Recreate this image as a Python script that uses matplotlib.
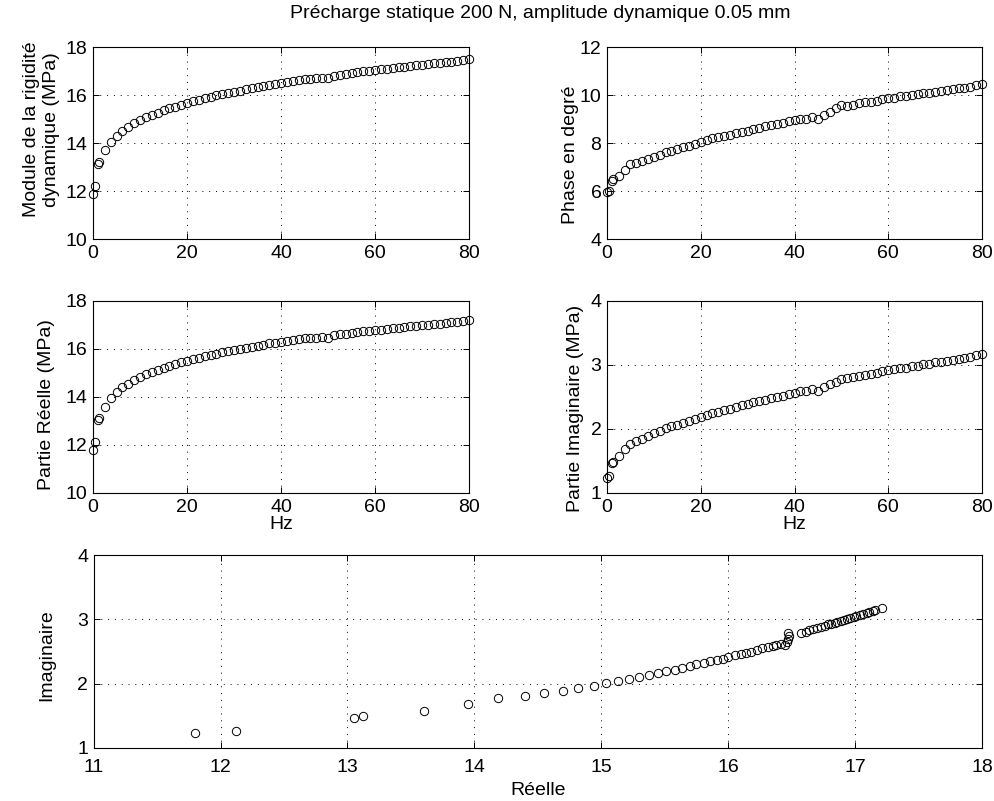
import matplotlib
matplotlib.use("Agg")
import matplotlib.pyplot as plt

# Frequencies (Hz)
freq = [0.1, 0.5, 1.0, 1.25, 2.5, 3.75, 5.0, 6.25, 7.5, 8.75,
        10.0, 11.25, 12.5, 13.75, 15.0, 16.25, 17.5, 18.75, 20.0, 21.25,
        22.5, 23.75, 25.0, 26.25, 27.5, 28.75, 30.0, 31.25, 32.5, 33.75,
        35.0, 36.25, 37.5, 38.75, 40.0, 41.25, 42.5, 43.75, 45.0, 46.25,
        47.5, 48.75, 50.0, 51.25, 52.5, 53.75, 55.0, 56.25, 57.5, 58.75,
        60.0, 61.25, 62.5, 63.75, 65.0, 66.25, 67.5, 68.75, 70.0, 71.25,
        72.5, 73.75, 75.0, 76.25, 77.5, 78.75, 80.0]

# Module de la rigidite dynamique (MPa)
module = [11.86, 12.19, 13.13, 13.21, 13.69, 14.05, 14.30, 14.51, 14.67, 14.82,
          14.95, 15.07, 15.17, 15.27, 15.36, 15.44, 15.52, 15.60, 15.66, 15.74,
          15.80, 15.86, 15.92, 15.98, 16.03, 16.09, 16.14, 16.18, 16.24, 16.29,
          16.33, 16.37, 16.43, 16.47, 16.51, 16.55, 16.59, 16.63, 16.66, 16.67,
          16.69, 16.71, 16.71, 16.81, 16.85, 16.88, 16.91, 16.95, 16.98, 17.01,
          17.04, 17.07, 17.10, 17.12, 17.15, 17.17, 17.21, 17.23, 17.26, 17.28,
          17.32, 17.34, 17.37, 17.39, 17.43, 17.45, 17.50]

# Phase (degres)
phase = [5.95, 5.98, 6.43, 6.48, 6.63, 6.87, 7.11, 7.16, 7.25, 7.33,
         7.42, 7.51, 7.61, 7.68, 7.74, 7.82, 7.89, 7.96, 8.04, 8.11,
         8.19, 8.23, 8.31, 8.35, 8.43, 8.47, 8.52, 8.60, 8.64, 8.69,
         8.73, 8.78, 8.83, 8.91, 8.95, 9.00, 9.02, 9.07, 8.98, 9.15,
         9.31, 9.44, 9.58, 9.55, 9.60, 9.65, 9.70, 9.72, 9.77, 9.82,
         9.87, 9.89, 9.94, 9.96, 10.01, 10.03, 10.08, 10.10, 10.14, 10.17,
         10.21, 10.23, 10.28, 10.30, 10.35, 10.40, 10.44]

# Partie reelle (MPa)
reelle = [11.80, 12.12, 13.05, 13.12, 13.60, 13.95, 14.19, 14.40, 14.55, 14.70,
          14.82, 14.94, 15.04, 15.13, 15.22, 15.30, 15.375, 15.45, 15.51, 15.58,
          15.64, 15.70, 15.75, 15.81, 15.86, 15.91, 15.96, 16.00, 16.05, 16.10,
          16.14, 16.18, 16.23, 16.27, 16.31, 16.35, 16.38, 16.42, 16.45, 16.46,
          16.47, 16.48, 16.47, 16.575, 16.61, 16.64, 16.67, 16.70, 16.73, 16.76,
          16.79, 16.81, 16.84, 16.86, 16.89, 16.91, 16.94, 16.96, 16.99, 17.01,
          17.04, 17.06, 17.09, 17.11, 17.14, 17.16, 17.21]

# Partie imaginaire (MPa)
imag = [1.23, 1.27, 1.47, 1.49, 1.58, 1.68, 1.77, 1.81, 1.85, 1.89,
        1.93, 1.97, 2.01, 2.04, 2.07, 2.10, 2.13, 2.16, 2.19, 2.22,
        2.25, 2.27, 2.30, 2.32, 2.35, 2.37, 2.39, 2.42, 2.44, 2.46,
        2.48, 2.50, 2.52, 2.55, 2.57, 2.59, 2.60, 2.62, 2.60, 2.65,
        2.70, 2.74, 2.78, 2.79, 2.81, 2.83, 2.85, 2.86, 2.88, 2.90,
        2.92, 2.93, 2.95, 2.96, 2.98, 2.99, 3.01, 3.02, 3.04, 3.05,
        3.07, 3.08, 3.10, 3.11, 3.13, 3.15, 3.17]

plt.rcParams['font.family'] = ['Liberation Sans', 'DejaVu Sans']
plt.rcParams['font.size'] = 14

W, H = 994, 801
fig = plt.figure(figsize=(W / 100, H / 100), dpi=100)


def box(l, t, r, b):
    return [l / W, 1 - b / H, (r - l) / W, (b - t) / H]


def style(ax):
    ax.grid(True, color='black', linestyle=(0, (1, 6)), linewidth=0.7)
    ax.tick_params(direction='in', top=True, right=True, length=4, width=0.7, pad=4)
    for s in ax.spines.values():
        s.set_linewidth(0.8)


def scatter(ax, x, y):
    ax.plot(x, y, 'o', markerfacecolor='none', markeredgecolor='black',
            markersize=6, markeredgewidth=0.7, linestyle='none', clip_on=False)


ax1 = fig.add_axes(box(93, 47, 469, 239))
scatter(ax1, freq, module)
ax1.set_xlim(0, 80)
ax1.set_ylim(10, 18)
ax1.set_xticks([0, 20, 40, 60, 80])
ax1.set_yticks([10, 12, 14, 16, 18])
ax1.set_ylabel('Module de la rigidité\ndynamique (MPa)')
ax1.yaxis.set_label_coords(-0.088, 0.57)
style(ax1)

ax2 = fig.add_axes(box(607, 47, 982, 239))
scatter(ax2, freq, phase)
ax2.set_xlim(0, 80)
ax2.set_ylim(4, 12)
ax2.set_xticks([0, 20, 40, 60, 80])
ax2.set_yticks([4, 6, 8, 10, 12])
ax2.set_ylabel('Phase en degré')
ax2.yaxis.set_label_coords(-0.075, 0.44)
style(ax2)

ax3 = fig.add_axes(box(93, 301, 469, 493))
scatter(ax3, freq, reelle)
ax3.set_xlim(0, 80)
ax3.set_ylim(10, 18)
ax3.set_xticks([0, 20, 40, 60, 80])
ax3.set_yticks([10, 12, 14, 16, 18])
ax3.set_xlabel('Hz', labelpad=0)
ax3.set_ylabel('Partie Réelle (MPa)')
ax3.yaxis.set_label_coords(-0.10, 0.46)
style(ax3)

ax4 = fig.add_axes(box(607, 301, 982, 493))
scatter(ax4, freq, imag)
ax4.set_xlim(0, 80)
ax4.set_ylim(1, 4)
ax4.set_xticks([0, 20, 40, 60, 80])
ax4.set_yticks([1, 2, 3, 4])
ax4.set_xlabel('Hz', labelpad=0)
ax4.set_ylabel('Partie Imaginaire (MPa)')
ax4.yaxis.set_label_coords(-0.062, 0.44)
style(ax4)

ax5 = fig.add_axes(box(93.6, 555, 982, 748))
scatter(ax5, reelle, imag)
ax5.set_xlim(11, 18)
ax5.set_ylim(1, 4)
ax5.set_xticks(range(11, 19))
ax5.set_yticks([1, 2, 3, 4])
ax5.set_xlabel('Réelle', labelpad=4)
ax5.set_ylabel('Imaginaire')
ax5.yaxis.set_label_coords(-0.043, 0.48)
style(ax5)
ax5.tick_params(axis='x', pad=8)

fig.text(540 / W, 1 - 14 / H, 'Précharge statique 200 N, amplitude dynamique 0.05 mm',
         ha='center', va='center', fontsize=14)

plt.savefig("out.png", dpi=100)
